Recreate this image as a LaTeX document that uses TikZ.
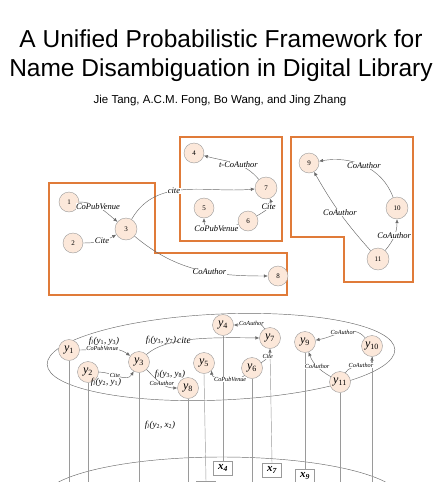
\documentclass[tikz,border=0pt]{standalone}
\usepackage{fontspec}
\setmainfont{Liberation Serif}
\newfontfamily\titlefont{Liberation Sans}
\usetikzlibrary{arrows.meta}
\definecolor{boxor}{HTML}{E07B39}
\definecolor{nodefill}{HTML}{FCE8DA}
\definecolor{nodedraw}{HTML}{9A9A9A}
\definecolor{edgecol}{HTML}{6A6A6A}
\newcommand{\ysub}[1]{\textit{y}\textsubscript{\upshape #1}}
\newcommand{\flabel}[2]{\textit{f}\textsubscript{l}(\ysub{#1}, \ysub{#2})}
\begin{document}
\begin{tikzpicture}[x=1pt,y=-1pt,
 gnode/.style={circle,draw=nodedraw,fill=nodefill,minimum size=20pt,inner sep=0pt,font=\fontsize{7}{7}\selectfont},
 ynode/.style={circle,draw=nodedraw,fill=nodefill,minimum size=21pt,inner sep=0pt,font=\fontsize{12}{12}\selectfont\itshape},
 region/.style={draw=boxor,line width=1.1pt},
 edge/.style={draw=edgecol,line width=0.45pt,-{Latex[length=4pt,width=3.5pt]}},
 elab/.style={font=\fontsize{8.5}{8.5}\selectfont\itshape,fill=white,inner sep=0.5pt},
 slab/.style={font=\fontsize{6.2}{6.2}\selectfont\itshape,fill=white,inner sep=0.3pt},
 flab/.style={font=\fontsize{9}{9}\selectfont\itshape,inner sep=0.5pt},
 xbox/.style={draw=nodedraw,fill=white,minimum width=19pt,minimum height=14pt,inner sep=0pt,font=\fontsize{11}{11}\selectfont\bfseries\itshape},
 plane/.style={draw=edgecol,line width=0.45pt},
 vline/.style={draw=nodedraw,line width=0.45pt}]
\useasboundingbox (0,0) rectangle (441,482);
\clip (0,0) rectangle (441,482);

% title
\node[font=\titlefont\fontsize{24.5}{24.5}\selectfont,anchor=base,inner sep=0pt] (t1) at (221,47) {A Unified Probabilistic Framework for};
\node[font=\titlefont\fontsize{24.5}{24.5}\selectfont,anchor=base,inner sep=0pt] (t2) at (221,76) {Name Disambiguation in Digital Library};
\node[font=\titlefont\fontsize{11.5}{11.5}\selectfont,anchor=base,inner sep=0pt] (t3) at (220,103) {Jie Tang, A.C.M. Fong, Bo Wang, and Jing Zhang};

% upper regions
\draw[region] (49,183) -- (155,183) -- (155,253) -- (287,253) -- (287,295) -- (49,295) -- cycle;
\draw[region] (180,137) rectangle (282,241);
\draw[region] (291,137) -- (413,137) -- (413,282) -- (344,282) -- (344,237) -- (291,237) -- cycle;

% upper nodes
\node[gnode] (n1) at (69,202) {1};
\node[gnode] (n2) at (73,243) {2};
\node[gnode,minimum size=22pt] (n3) at (126,229) {3};
\node[gnode] (n4) at (194,153) {4};
\node[gnode] (n5) at (204,208) {5};
\node[gnode] (n6) at (248,221) {6};
\node[gnode,minimum size=22pt] (n7) at (266,188) {7};
\node[gnode] (n8) at (278,276) {8};
\node[gnode] (n9) at (309,163) {9};
\node[gnode,minimum size=22pt] (n10) at (397,208) {10};
\node[gnode,minimum size=22pt] (n11) at (378,259) {11};

% upper edges
\draw[edge] (n1) to[out=0,in=140] node[elab,pos=0.45]{CoPubVenue} (n3);
\draw[edge] (n2) to[out=0,in=210] node[elab,pos=0.55]{Cite} (n3);
\draw[edge] (n3) to[out=60,in=185] node[elab,pos=0.42]{cite} (n7);
\draw[edge] (n3) to[out=-40,in=180] node[elab,pos=0.6]{CoAuthor} (n8);
\draw[edge] (n7) to[out=130,in=-15] node[elab,pos=0.42]{t-CoAuthor} (n4);
\draw[edge] (n6) to[out=30,in=-70] node[elab,pos=0.6]{Cite} (n7);
\draw[edge] (n6) to[out=200,in=-90] node[elab,pos=0.5]{CoPubVenue} (n5);
\draw[edge] (n10) to[out=110,in=10] node[elab,pos=0.5]{CoAuthor} (n9);
\draw[edge] (n11) to[bend left=6] node[elab,pos=0.5]{CoAuthor} (n9);
\draw[edge] (n11) to[out=50,in=-90] node[elab,pos=0.5]{CoAuthor} (n10);

% lower planes
\draw[plane,rotate around={2.5:(221,357)}] (221,357) ellipse [x radius=174pt, y radius=43pt];
\draw[plane] (222,500) ellipse [x radius=180pt, y radius=43pt];

% lower y nodes
\node[ynode] (y1) at (69,350) {\ysub{1}};
\node[ynode] (y2) at (88,372) {\ysub{2}};
\node[ynode] (y3) at (139,362) {\ysub{3}};
\node[ynode] (y4) at (223,325) {\ysub{4}};
\node[ynode] (y5) at (204,363) {\ysub{5}};
\node[ynode] (y6) at (252,368) {\ysub{6}};
\node[ynode] (y7) at (270,338) {\ysub{7}};
\node[ynode] (y8) at (188,388) {\ysub{8}};
\node[ynode] (y9) at (305,342) {\ysub{9}};
\node[ynode] (y10) at (372,346) {\ysub{10}};
\node[ynode] (y11) at (340,382) {\ysub{11}};

% x boxes
\node[xbox] (x4) at (223,468) {\textit{x}\textsubscript{4}};
\node[xbox] (x7) at (272,470) {\textit{x}\textsubscript{7}};
\node[xbox] (x9) at (305,476) {\textit{x}\textsubscript{9}};
\node[xbox] (x10) at (372,490) {};
\node[xbox] (x5) at (206,488) {};

% bottom ends
\coordinate (b1) at (69,482);
\coordinate (b2) at (88,482);
\coordinate (b3) at (139,482);
\coordinate (b8) at (188,482);
\coordinate (b6) at (252,482);
\coordinate (b11) at (340,482);

% vertical lines
\draw[vline] (y1.south) -- (b1);
\draw[vline] (y2.south) -- (b2);
\draw[vline] (y3.south) -- (b3);
\draw[vline] (y8.south) -- (b8);
\draw[vline] (y6.south) -- (b6);
\draw[vline] (y11.south) -- (b11);
\draw[vline] (y4.south) -- (x4.north);
\draw[vline] (y7.south) -- (x7.north);
\draw[vline] (y9.south) -- (x9.north);
\draw[vline] (y10.south) -- (x10.north);
\draw[vline] (y5.south) -- (x5.north);

% lower edges
\draw[edge] (y1) to[out=0,in=145] node[slab,pos=0.42]{CoPubVenue} (y3);
\node[flab] (f13) at (104,341) {\flabel{1}{3}};
\draw[edge] (y2) to[out=0,in=-120] node[slab,pos=0.4]{Cite} (y3);
\node[flab] (f21) at (106,382) {\flabel{2}{1}};
\draw[edge] (y3.north east) .. controls (165,338) and (205,337) .. node[elab,font=\fontsize{9.5}{9.5}\selectfont\itshape,pos=0.45]{cite} (y7.west);
\node[flab] (f37) at (161,340) {\flabel{3}{7}};
\draw[edge] (y3) to[out=-45,in=180] node[slab,pos=0.55]{CoAuthor} (y8);
\node[flab] (f38) at (170,374) {\flabel{3}{8}};
\draw[edge] (y6.south west) .. controls (238,382) and (212,380) .. node[slab,pos=0.4]{CoPubVenue} (y5.south east);
\draw[edge] (y6) to[out=30,in=-90] node[slab,pos=0.5]{Cite} (y7);
\draw[edge] (y7) to[out=120,in=0] node[slab,pos=0.5]{CoAuthor} (y4);
\draw[edge] (y10) to[out=130,in=10] node[slab,pos=0.5]{CoAuthor} (y9);
\draw[edge] (y11) to[out=150,in=-70] node[slab,pos=0.5]{CoAuthor} (y9);
\draw[edge] (y11) to[out=60,in=-90] node[slab,pos=0.5]{CoAuthor} (y10);
\node[flab] (f2x) at (160,425) {\textit{f}\textsubscript{l}(\ysub{2}, \textit{x}\textsubscript{\upshape 2})};
\end{tikzpicture}
\end{document}
